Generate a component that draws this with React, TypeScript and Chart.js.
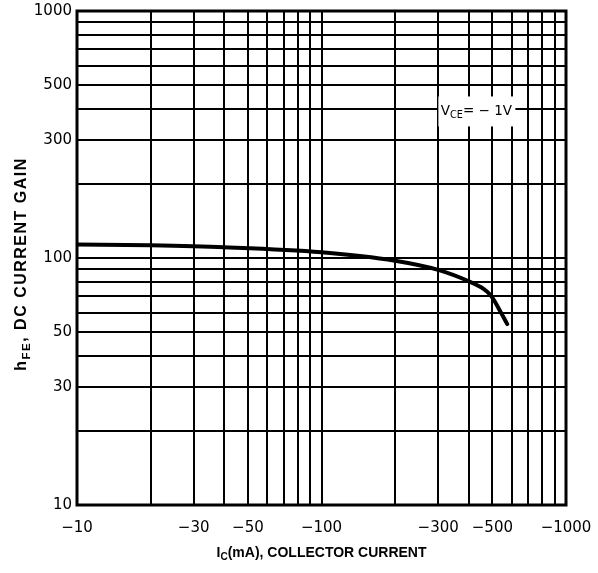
import { useEffect, useRef } from 'react';
import { Chart, registerables } from 'chart.js';

Chart.register(...registerables);

// Collector current (mA) and DC current gain
const icMA = [-10, -20, -40, -100, -200, -300, -400, -460, -490, -510, -540, -575];
const hFE = [113.5, 112.5, 110.5, 105.5, 97.5, 89.5, 80.5, 75, 71, 67, 60.5, 54];

// Grid values and labelled ticks
const xGrid = [10, 20, 30, 40, 50, 60, 70, 80, 90, 100, 200, 300, 400, 500, 600, 700, 800, 900, 1000];
const yGrid = [10, 20, 30, 40, 50, 60, 70, 80, 90, 100, 200, 300, 400, 500, 600, 700, 800, 900, 1000];
const xTickLabels = [10, 30, 50, 100, 300, 500, 1000];
const yTickLabels = [10, 30, 50, 100, 300, 500, 1000];

// Annotation anchor (data coords, |Ic| and hFE)
const noteAt = { x: 430, y: 392 };

type Part = { t: string; sub?: boolean };

function drawRich(ctx: CanvasRenderingContext2D, parts: Part[], cx: number, cy: number, size: number, family: string, bold: boolean, spacing = 0) {
  const w = bold ? 'bold ' : '';
  const subSize = size * 0.72;
  (ctx as any).letterSpacing = spacing + 'px';
  let total = 0;
  const widths: number[] = [];
  for (const p of parts) {
    ctx.font = `${w}${p.sub ? subSize : size}px ${family}`;
    const m = ctx.measureText(p.t).width;
    widths.push(m);
    total += m;
  }
  let x = cx - total / 2;
  ctx.textBaseline = 'middle';
  ctx.textAlign = 'left';
  parts.forEach((p, i) => {
    ctx.font = `${w}${p.sub ? subSize : size}px ${family}`;
    ctx.fillText(p.t, x, p.sub ? cy + size * 0.28 : cy);
    x += widths[i];
  });
  (ctx as any).letterSpacing = '0px';
}

const decorPlugin = {
  id: 'decor',
  afterDraw(chart: any) {
    const ctx: CanvasRenderingContext2D = chart.ctx;
    const a = chart.chartArea;
    const xs = chart.scales.x;
    const ys = chart.scales.y;
    ctx.save();
    // plot border
    ctx.strokeStyle = '#000';
    ctx.lineWidth = 3;
    ctx.strokeRect(a.left, a.top, a.right - a.left, a.bottom - a.top);

    // annotation
    const nx = xs.getPixelForValue(noteAt.x);
    const ny = ys.getPixelForValue(noteAt.y);
    ctx.fillStyle = '#fff';
    ctx.fillRect(nx - 38, ny - 15, 77, 30);
    ctx.fillStyle = '#000';
    drawRich(ctx, [{ t: 'V' }, { t: 'CE', sub: true }, { t: '= \u2212 1V' }], nx, ny, 13.5, '"DejaVu Sans"', false);

    // x title
    drawRich(ctx, [{ t: 'I' }, { t: 'C', sub: true }, { t: '(mA), COLLECTOR CURRENT' }], (a.left + a.right) / 2, 553, 14, '"Liberation Sans"', true);

    // y title
    ctx.translate(22, 264);
    ctx.rotate(-Math.PI / 2);
    drawRich(ctx, [{ t: 'h' }, { t: 'FE', sub: true }, { t: ', DC CURRENT GAIN' }], 0, 0, 16, '"Liberation Sans"', true, 1.5);
    ctx.restore();
  },
};

export default function App() {
  const ref = useRef<HTMLCanvasElement | null>(null);
  useEffect(() => {
    if (!ref.current) return;
    const chart = new Chart(ref.current, {
      type: 'line',
      data: {
        datasets: [
          {
            data: icMA.map((v, i) => ({ x: -v, y: hFE[i] })),
            borderColor: '#000',
            borderWidth: 4,
            pointRadius: 0,
            cubicInterpolationMode: 'monotone',
            borderCapStyle: 'round',
            fill: false,
          },
        ],
      },
      options: {
        animation: false,
        responsive: true,
        maintainAspectRatio: false,
        layout: { padding: { top: 11, right: 32, left: 0, bottom: 0 } },
        plugins: { legend: { display: false }, tooltip: { enabled: false } },
        scales: {
          x: {
            type: 'logarithmic',
            min: 10,
            max: 1000,
            afterBuildTicks: (s: any) => {
              s.ticks = xGrid.map((v) => ({ value: v }));
            },
            afterFit: (s: any) => {
              s.height = 68;
              s.paddingLeft = 0;
              s.paddingRight = 0;
            },
            ticks: {
              autoSkip: false,
              maxRotation: 0,
              padding: 14,
              color: '#000',
              font: { family: '"DejaVu Sans"', size: 15 },
              callback: (v: any) => (xTickLabels.includes(Number(v)) ? '\u2212' + v : ''),
            },
            grid: { color: '#000', lineWidth: 2, drawTicks: false },
            border: { display: false },
          },
          y: {
            type: 'logarithmic',
            min: 10,
            max: 1000,
            afterBuildTicks: (s: any) => {
              s.ticks = yGrid.map((v) => ({ value: v }));
            },
            afterFit: (s: any) => {
              s.width = 77;
              s.paddingTop = 0;
              s.paddingBottom = 0;
            },
            ticks: {
              autoSkip: false,
              padding: 5,
              color: '#000',
              font: { family: '"DejaVu Sans"', size: 15 },
              callback: (v: any) => (yTickLabels.includes(Number(v)) ? String(v) : ''),
            },
            grid: { color: '#000', lineWidth: 2, drawTicks: false },
            border: { display: false },
          },
        },
      },
      plugins: [decorPlugin],
    });
    return () => chart.destroy();
  }, []);
  return (
    <div style={{ position: 'fixed', left: 0, top: 0, width: 598, height: 573, background: '#fff' }}>
      <canvas ref={ref} />
    </div>
  );
}
